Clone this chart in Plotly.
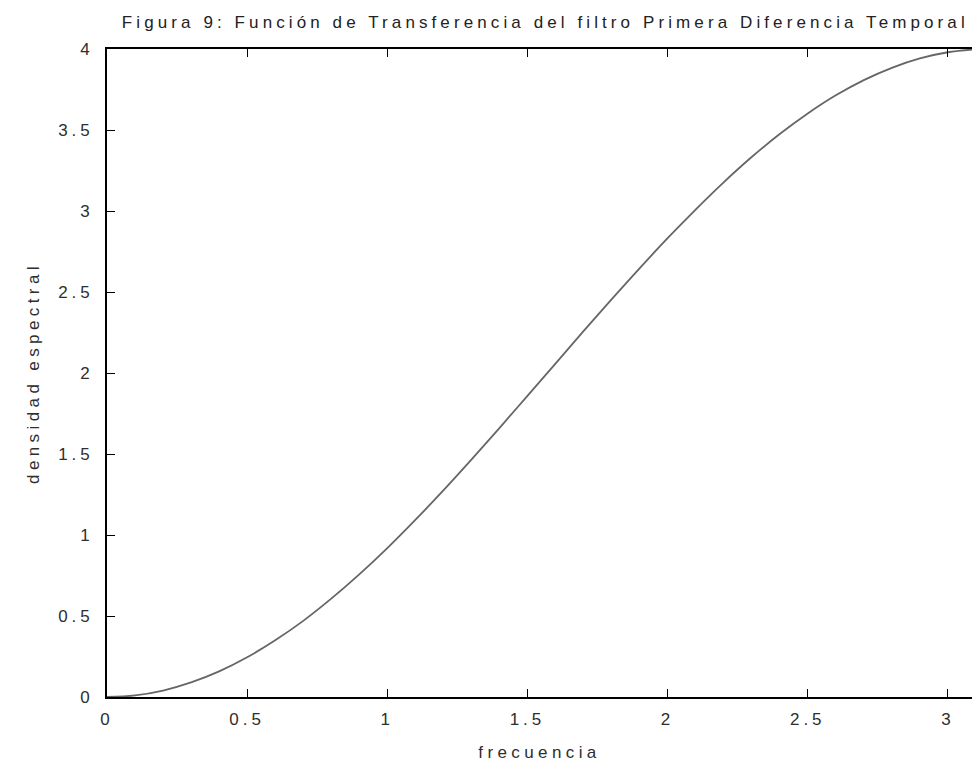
import plotly.graph_objects as go

# Frequency grid (radians) and spectral density of the first-difference filter
frecuencia = [0.0, 0.1, 0.2, 0.3, 0.4, 0.5, 0.6, 0.7, 0.8, 0.9, 1.0,
              1.1, 1.2, 1.3, 1.4, 1.5, 1.6, 1.7, 1.8, 1.9, 2.0,
              2.1, 2.2, 2.3, 2.4, 2.5, 2.6, 2.7, 2.8, 2.9, 3.0, 3.1]
densidad = [0.0, 0.01, 0.04, 0.09, 0.158, 0.245, 0.35, 0.47, 0.607, 0.757, 0.919,
            1.093, 1.275, 1.465, 1.66, 1.859, 2.058, 2.258, 2.454, 2.646, 2.832,
            3.009, 3.177, 3.333, 3.475, 3.602, 3.714, 3.808, 3.884, 3.942, 3.98, 3.998]

x_ticks = [0, 0.5, 1, 1.5, 2, 2.5, 3]
x_labels = ["0", "0.5", "1", "1.5", "2", "2.5", "3"]
y_ticks = [0, 0.5, 1, 1.5, 2, 2.5, 3, 3.5, 4]
y_labels = ["0", "0.5", "1", "1.5", "2", "2.5", "3", "3.5", "4"]

titulo = "Figura 9: Función de Transferencia del filtro Primera Diferencia Temporal"

font_family = "Liberation Sans, Arial, sans-serif"
text_color = "#2e2e2e"
label_font = dict(family=font_family, size=17, color=text_color)

fig = go.Figure()
fig.add_trace(go.Scatter(
    x=frecuencia, y=densidad, mode="lines",
    line=dict(color="#666666", width=1.8, shape="spline"),
    showlegend=False, hoverinfo="skip",
))

axis_common = dict(
    showgrid=False, zeroline=False,
    showline=True, linecolor="#000000", linewidth=1.6,
    ticks="inside", ticklen=8, tickwidth=1.3, tickcolor="#000000",
    tickfont=label_font,
)

fig.update_layout(
    width=972, height=762,
    paper_bgcolor="white", plot_bgcolor="white",
    margin=dict(l=107, r=0, t=49, b=65),
    title=dict(text=titulo, x=0.561, xanchor="center", y=0.971, yanchor="middle",
               font=dict(family=font_family, size=17, color="#222222")),
    xaxis=dict(axis_common, mirror="ticks", range=[0, 3.086],
               tickvals=x_ticks, ticktext=x_labels, ticklabelstandoff=6,
               title=dict(text="frecuencia", standoff=18, font=label_font)),
    yaxis=dict(axis_common, mirror=False, range=[0, 4],
               tickvals=y_ticks, ticktext=y_labels, ticklabelstandoff=8,
               title=dict(text="densidad espectral", standoff=26, font=label_font)),
)

# Widen the letter spacing of every text element in the figure
post = """
var gd = document.getElementsByClassName('plotly-graph-div')[0];
function spread(){
  gd.querySelectorAll('.gtitle').forEach(function(t){ t.style.letterSpacing='4.1px'; });
  gd.querySelectorAll('.xtick text, .ytick text').forEach(function(t){ t.style.letterSpacing='4px'; });
  gd.querySelectorAll('.xtitle, .ytitle').forEach(function(t){ t.style.letterSpacing='4.4px'; });
}
spread();
gd.on('plotly_afterplot', spread);
"""

fig.write_html("out.html", post_script=post)
